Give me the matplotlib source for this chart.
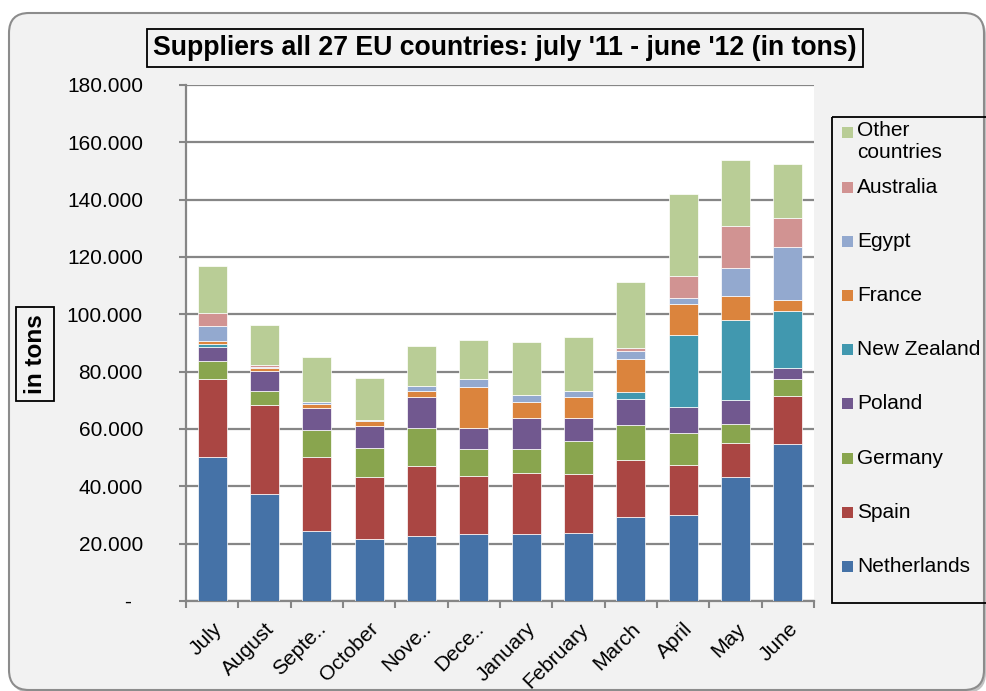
import numpy as np
import matplotlib.pyplot as plt
from matplotlib.patches import FancyBboxPatch, Rectangle
from matplotlib.ticker import FuncFormatter

plt.rcParams['font.family'] = ['Liberation Sans', 'DejaVu Sans']

months = ['July', 'August', 'Septe..', 'October', 'Nove..', 'Dece..', 'January',
          'February', 'March', 'April', 'May', 'June']

# tons per month
netherlands = [50200, 37400, 24400, 21700, 22600, 23300, 23300, 23800, 29200, 29900, 43400, 54900]
spain = [27300, 30900, 25800, 21500, 24500, 20300, 21500, 20600, 20000, 17700, 11800, 16700]
germany = [6200, 4900, 9300, 10100, 13300, 9300, 8300, 11400, 12100, 11000, 6400, 5700]
poland = [5000, 7100, 7800, 7900, 10600, 7600, 10600, 7900, 9300, 9100, 8400, 4100]
new_zealand = [1000, 0, 0, 0, 0, 0, 0, 0, 2400, 25100, 27900, 19900]
france = [900, 1000, 1500, 1500, 2300, 14100, 5600, 7300, 11400, 10900, 8400, 3700]
egypt = [5300, 200, 500, 500, 1600, 2800, 2600, 2400, 2700, 2000, 9700, 18500]
australia = [4500, 800, 0, 0, 0, 0, 0, 0, 1300, 7700, 14900, 10100]
other = [16400, 14000, 15900, 14500, 14000, 13500, 18400, 18600, 22900, 28600, 23100, 19000]

series = [netherlands, spain, germany, poland, new_zealand, france, egypt, australia, other]
labels = ['Netherlands', 'Spain', 'Germany', 'Poland', 'New Zealand', 'France', 'Egypt',
          'Australia', 'Other\ncountries']
colors = ['#4572A7', '#AA4643', '#89A54E', '#71588F', '#4198AF', '#DB843D', '#93A9CF',
          '#D19392', '#B9CD96']

W, H = 987, 691
fig = plt.figure(figsize=(W / 100, H / 100), dpi=100, facecolor='white')

# background frame (pixel coordinates, y from top)
bg = fig.add_axes([0, 0, 1, 1], zorder=-1)
bg.set_xlim(0, W)
bg.set_ylim(H, 0)
bg.axis('off')
bg.add_patch(FancyBboxPatch((11, 15), 975, 678, boxstyle='round,pad=0,rounding_size=20',
                            fc='#9A9A9A', ec='none', alpha=0.6))
bg.add_patch(FancyBboxPatch((9, 13), 975, 677, boxstyle='round,pad=0,rounding_size=20',
                            fc='#F2F2F2', ec='#8C8C8C', lw=1.5))

ax = fig.add_axes([186 / W, 1 - 601 / H, (814 - 186) / W, (601 - 85) / H])
ax.set_facecolor('white')

x = np.arange(len(months))
bottom = np.zeros(len(months))
for vals, lab, col in zip(series, labels, colors):
    ax.bar(x, vals, 0.55, bottom=bottom, color=col, edgecolor='#FFFFFF', linewidth=0.5,
           label=lab, zorder=3)
    bottom += np.array(vals)

ax.set_xlim(-0.5, len(months) - 0.5)
ax.set_ylim(0, 180000)
ax.set_yticks(np.arange(0, 180001, 20000))


def fmt(v, pos):
    if v == 0:
        return '-  '
    return f'{int(v):,}'.replace(',', '.')


ax.yaxis.set_major_formatter(FuncFormatter(fmt))
ax.grid(axis='y', color='#868686', linewidth=1.6, zorder=0)
ax.set_axisbelow(True)

ax.set_xticks(x)
ax.set_xticklabels(months, rotation=45, ha='right', rotation_mode='anchor', fontsize=15)
ax.set_xticks(np.arange(-0.5, len(months), 1), minor=True)
ax.tick_params(axis='x', which='major', length=0, pad=13)
ax.tick_params(axis='x', which='minor', length=5, width=1.5, color='#868686')
ax.tick_params(axis='y', length=5, width=1.5, color='#868686', pad=26, labelsize=15)

for s in ['top', 'right']:
    ax.spines[s].set_visible(False)
for s in ['left', 'bottom']:
    ax.spines[s].set_color('#868686')
    ax.spines[s].set_linewidth(1.6)

# title and axis label in boxes
fig.text(505 / W, 1 - 48 / H, "Suppliers all 27 EU countries: july '11 - june '12 (in tons)",
         ha='center', va='center', fontsize=19.2, fontweight='bold',
         bbox=dict(boxstyle='square,pad=0.22', fc='none', ec='black', lw=1.3))
fig.text(35 / W, 1 - 354 / H, 'in tons', rotation=90, ha='center', va='center',
         fontsize=17.5, fontweight='bold',
         bbox=dict(boxstyle='square,pad=0.3', fc='none', ec='black', lw=1.3))

# legend, top entry first
bg.add_patch(Rectangle((832, 117), 170, 486, fc='none', ec='black', lw=1.3))
step = 54.2
for i, (lab, col) in enumerate(zip(labels[::-1], colors[::-1])):
    yc = 132 if i == 0 else 187 + (i - 1) * step
    bg.add_patch(Rectangle((842, yc - 5.5), 11, 11, fc=col, ec='none'))
    if '\n' in lab:
        bg.text(857, yc - 11, lab, ha='left', va='top', fontsize=15, linespacing=1.2)
    else:
        bg.text(857, yc, lab, ha='left', va='center', fontsize=15)

fig.savefig('out.png', dpi=100, facecolor='white')
